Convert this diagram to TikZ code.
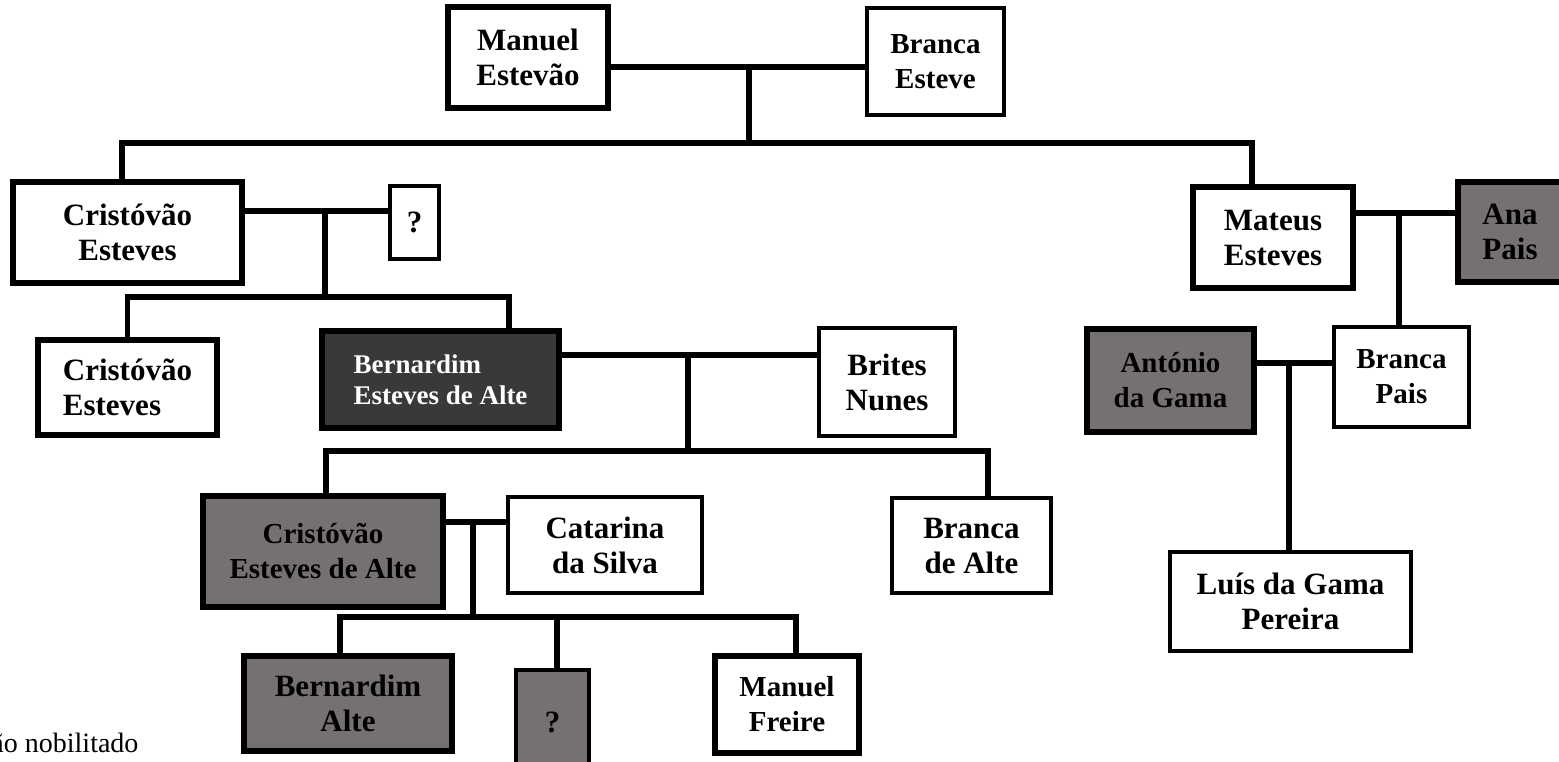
\documentclass[tikz,border=0pt]{standalone}
\usepackage{fontspec}
\setmainfont{Liberation Serif}
\definecolor{boxgrey}{HTML}{767171}
\definecolor{boxdark}{HTML}{3B3838}
\tikzstyle{person} = [rectangle, draw=black, align=center, inner sep=0pt, font=\bfseries\fontsize{31}{35}\selectfont]
\tikzstyle{thickbox} = [person, line width=6pt]
\tikzstyle{thinbox} = [person, line width=4pt]
\tikzstyle{greyfill} = [fill=boxgrey]
\tikzstyle{darkfill} = [fill=boxdark, text=white, font=\bfseries\fontsize{27}{31}\selectfont]
\tikzstyle{smaller} = [font=\bfseries\fontsize{29}{35}\selectfont]
\tikzstyle{link} = [line width=5.5pt]

\begin{document}
\begin{tikzpicture}[x=1pt, y=-1pt]
    \path[use as bounding box, clip] (0,0) rectangle (1559,761);

    % generation 1
    \node (ME) [thickbox, minimum width=160pt, minimum height=101pt] at (528,57.5) {Manuel\\Estevão};
    \node (BE) [thinbox, smaller, minimum width=137pt, minimum height=107pt] at (935.5,61.5) {Branca\\Esteve};

    % generation 2
    \node (CE1) [thickbox, minimum width=229pt, minimum height=101pt] at (127.5,232.5) {Cristóvão\\Esteves};
    \node (Q1) [thinbox, minimum width=49pt, minimum height=73pt] at (414.5,222.5) {?};
    \node (MA) [thickbox, minimum width=160pt, minimum height=101pt] at (1273,237.5) {Mateus\\Esteves};
    \node (AP) [thickbox, greyfill, minimum width=104pt, minimum height=100pt] at (1510,232) {Ana\\Pais};

    % generation 3
    \node (CE2) [thickbox, align=left, minimum width=179pt, minimum height=95pt] at (127.5,387.5) {Cristóvão\\Esteves};
    \node (BEA) [thickbox, darkfill, align=left, minimum width=237pt, minimum height=97pt] at (440.5,379.5) {Bernardim\\Esteves de Alte};
    \node (BN) [thinbox, minimum width=136pt, minimum height=108pt] at (887,382) {Brites\\Nunes};
    \node (AG) [thickbox, greyfill, smaller, minimum width=167pt, minimum height=103pt] at (1170.5,380.5) {António\\da Gama};
    \node (BP) [thinbox, smaller, minimum width=135pt, minimum height=100pt] at (1401.5,377) {Branca\\Pais};

    % generation 4
    \node (CEA) [thickbox, greyfill, smaller, minimum width=240pt, minimum height=111pt] at (323,551.5) {Cristóvão\\Esteves de Alte};
    \node (CS) [thinbox, minimum width=194pt, minimum height=96pt] at (605,545) {Catarina\\da Silva};
    \node (BDA) [thinbox, minimum width=159pt, minimum height=95pt] at (971.5,545.5) {Branca\\de Alte};
    \node (LG) [thinbox, minimum width=241pt, minimum height=99pt] at (1290.5,601.5) {Luís da Gama\\Pereira};

    % generation 5
    \node (BAL) [thickbox, greyfill, minimum width=208pt, minimum height=95pt] at (348,703.5) {Bernardim\\Alte};
    \node (Q2) [thinbox, greyfill, minimum width=73pt, minimum height=105pt] at (552.5,722.5) {?};
    \node (MF) [thickbox, smaller, minimum width=144pt, minimum height=97pt] at (787,704.5) {Manuel\\Freire};

    \node (nota) [anchor=base east, font=\fontsize{28}{30}\selectfont] at (142,752) {Não nobilitado};

    % marriages and children
    \coordinate (m1) at (749,67);
    \coordinate (k1) at (749,143);
    \draw [link] (ME.east |- m1) -- (BE.west |- m1);
    \draw [link] (m1) -- (k1);
    \draw [link] ([xshift=-5.5pt]CE1.north) |- (k1) -| ([xshift=-21pt]MA.north);

    \coordinate (m2) at (325,211);
    \coordinate (k2) at (325,297);
    \draw [link] (CE1.east |- m2) -- (Q1.west |- m2);
    \draw [link] (m2) -- (k2);
    \draw [link] (CE2.north) |- (k2) -| ([xshift=68.5pt]BEA.north);

    \coordinate (m3) at (688,355);
    \coordinate (k3) at (688,451);
    \draw [link] (BEA.east |- m3) -- (BN.west |- m3);
    \draw [link] (m3) -- (k3);
    \draw [link] ([xshift=3pt]CEA.north) |- (k3) -| ([xshift=16.5pt]BDA.north);

    \coordinate (m4) at (473,522);
    \coordinate (k4) at (473,617);
    \draw [link] (CEA.east |- m4) -- (CS.west |- m4);
    \draw [link] (m4) -- (k4);
    \draw [link] ([xshift=-8pt]BAL.north) |- (k4) -| ([xshift=9pt]MF.north);
    \draw [link] ([xshift=4.5pt]Q2.north) -- ([xshift=4.5pt]Q2.north |- k4);

    \coordinate (m5) at (1399,213);
    \draw [link] (MA.east |- m5) -- (AP.west |- m5);
    \draw [link] (m5) -- (m5 |- BP.north);

    \coordinate (m6) at (1289,363);
    \draw [link] (AG.east |- m6) -- (BP.west |- m6);
    \draw [link] (m6) -- (m6 |- LG.north);

\end{tikzpicture}
\end{document}
